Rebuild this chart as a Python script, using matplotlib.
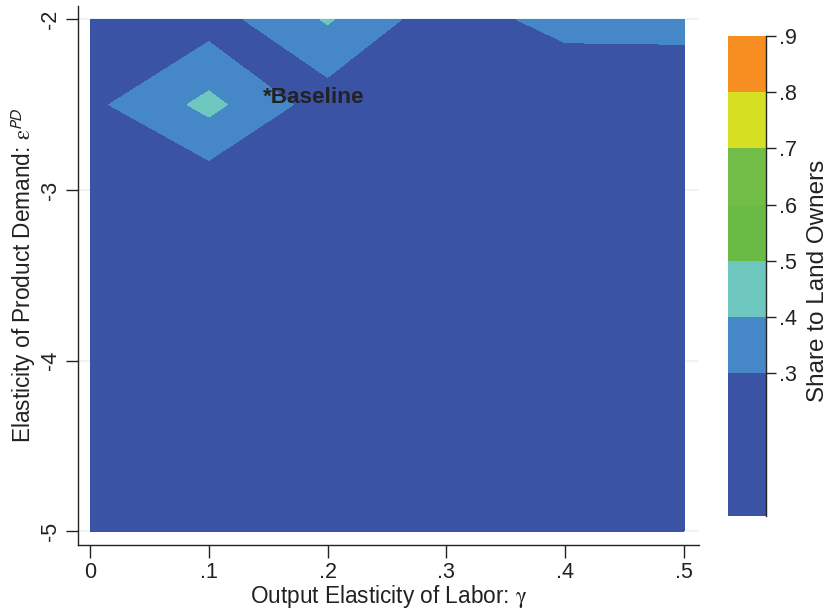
import numpy as np
import matplotlib
matplotlib.use("Agg")
import matplotlib.pyplot as plt
import matplotlib.tri as mtri

# ---- data ----
gamma = [0.0, 0.1, 0.2, 0.3, 0.4, 0.5]
epd = [-5.0, -4.5, -4.0, -3.5, -3.0, -2.5, -2.0]
# share to land owners, one row per epd value (bottom -> top)
share_m50 = [0.100, 0.090, 0.080, 0.070, 0.060, 0.046]
share_m45 = [0.110, 0.100, 0.090, 0.080, 0.070, 0.060]
share_m40 = [0.130, 0.120, 0.110, 0.100, 0.090, 0.080]
share_m35 = [0.160, 0.150, 0.130, 0.120, 0.110, 0.100]
share_m30 = [0.210, 0.232, 0.180, 0.150, 0.130, 0.120]
share_m25 = [0.276, 0.428, 0.248, 0.200, 0.175, 0.180]
share_m20 = [0.220, 0.255, 0.410, 0.233, 0.347, 0.350]

levels = [0.046, 0.3, 0.4, 0.5, 0.6, 0.7, 0.8, 0.9]
level_colors = ["#3A53A4", "#4587C7", "#6EC7BE", "#6ABB45", "#71BD47",
                "#D7DF23", "#F68E22"]
cbar_ticks = [0.3, 0.4, 0.5, 0.6, 0.7, 0.8, 0.9]
cbar_ticklabels = [".3", ".4", ".5", ".6", ".7", ".8", ".9"]
x_ticks = [0, 0.1, 0.2, 0.3, 0.4, 0.5]
x_ticklabels = ["0", ".1", ".2", ".3", ".4", ".5"]
y_ticks = [-5, -4, -3, -2]
y_ticklabels = ["-5", "-4", "-3", "-2"]
baseline_label = "*Baseline"
baseline_pos = (0.1455, -2.46)

# ---- figure ----
plt.rcParams["font.family"] = ["Liberation Sans", "DejaVu Sans"]
plt.rcParams["mathtext.fontset"] = "stix"
FS = 15.5
TC = "#222222"

fig = plt.figure(figsize=(8.32, 6.10), dpi=100)
ax = fig.add_axes([78 / 832, 1 - 545 / 610, (699 - 78) / 832, (545 - 6) / 610])

Z = np.array([share_m50, share_m45, share_m40, share_m35,
              share_m30, share_m25, share_m20])
X, Y = np.meshgrid(gamma, epd)
nx, ny = len(gamma), len(epd)
triangles = []
for j in range(ny - 1):
    for i in range(nx - 1):
        a = j * nx + i
        b = j * nx + i + 1
        c = (j + 1) * nx + i + 1
        d = (j + 1) * nx + i
        if (i + j) % 2 == 1:
            triangles += [[a, b, c], [a, c, d]]
        else:
            triangles += [[a, b, d], [b, c, d]]
tri = mtri.Triangulation(X.ravel(), Y.ravel(), np.array(triangles))

for yt in y_ticks:
    ax.axhline(yt, color="#EAF2F3", lw=1.2, zorder=0)

cs = ax.tricontourf(tri, Z.ravel(), levels=levels, colors=level_colors,
                    zorder=1)

ax.set_xlim(-0.0101, 0.5126)
ax.set_ylim(-5.082, -1.921)
for s in ["top", "right"]:
    ax.spines[s].set_visible(False)
for s in ["left", "bottom"]:
    ax.spines[s].set_linewidth(1.0)
    ax.spines[s].set_color(TC)

ax.set_xticks(x_ticks)
ax.set_xticklabels(x_ticklabels)
ax.set_yticks(y_ticks)
ax.set_yticklabels(y_ticklabels, rotation=90, va="center")
ax.tick_params(axis="both", length=9, width=1.0, labelsize=FS, pad=3,
               color=TC, labelcolor=TC)

ax.set_xlabel(r"Output Elasticity of Labor: $\mathrm{\gamma}$", fontsize=16.3,
              labelpad=0, color=TC)
ax.set_ylabel(r"Elasticity of Product Demand: $\mathrm{\varepsilon}^{\mathsf{PD}}$",
              fontsize=16.3, labelpad=2, color=TC)

ax.text(baseline_pos[0], baseline_pos[1], baseline_label, fontsize=16.2,
        fontweight="bold", color=TC, ha="left", va="center", zorder=5)

# ---- colorbar ----
cax = fig.add_axes([728 / 832, 1 - 516 / 610, 38 / 832, (516 - 36) / 610])
cb = fig.colorbar(cs, cax=cax, spacing="proportional", ticks=cbar_ticks)
cb.ax.set_yticklabels(cbar_ticklabels)
cb.outline.set_visible(False)
cax.plot([1, 1], [0, 1], transform=cax.transAxes, color=TC, lw=1.0,
         clip_on=False)
cax.tick_params(length=7.5, width=1.0, labelsize=FS, pad=2, color=TC,
                labelcolor=TC)
fig.text(818 / 832, 1 - 281 / 610, "Share to Land Owners", rotation=90,
         fontsize=17.5, ha="center", va="center", color=TC)

fig.savefig("out.png", dpi=100)
